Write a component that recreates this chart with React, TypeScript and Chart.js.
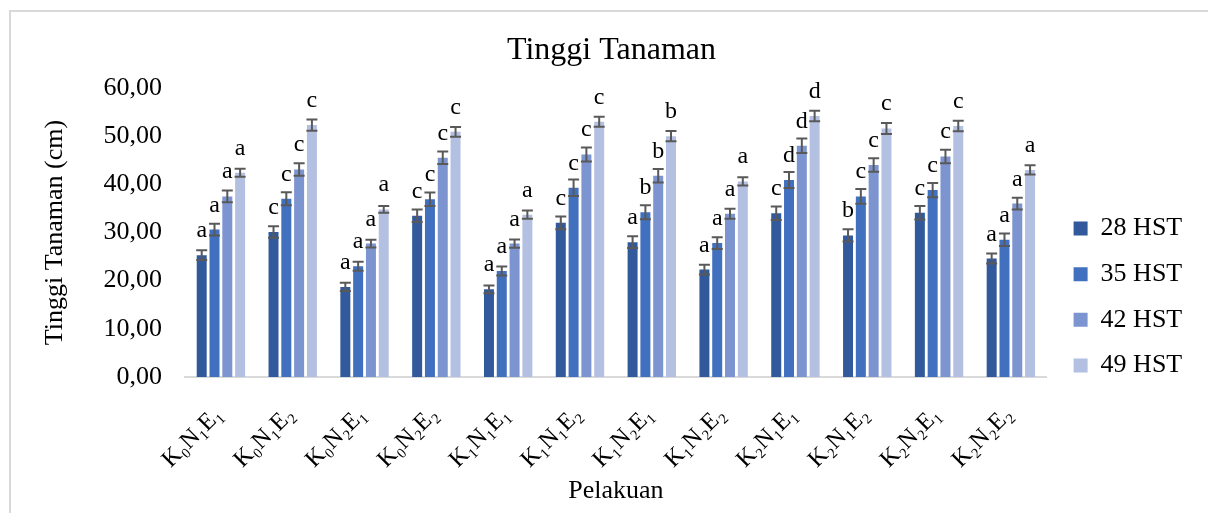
import React, { useEffect, useRef } from 'react';
import { Chart, registerables } from 'chart.js';

Chart.register(...registerables);

// ---- data ----
const categories = [
  'K₀N₁E₁', 'K₀N₁E₂', 'K₀N₂E₁', 'K₀N₂E₂',
  'K₁N₁E₁', 'K₁N₁E₂', 'K₁N₂E₁', 'K₁N₂E₂',
  'K₂N₁E₁', 'K₂N₁E₂', 'K₂N₂E₁', 'K₂N₂E₂',
];
const seriesNames = ['28 HST', '35 HST', '42 HST', '49 HST'];

const hst28 = [25.3, 30.1, 18.7, 33.5, 18.2, 32.0, 28.0, 22.3, 34.0, 29.4, 34.1, 24.6];
const hst35 = [30.6, 37.0, 23.0, 36.9, 22.0, 39.3, 34.2, 27.8, 40.9, 37.5, 38.8, 28.5];
const hst42 = [37.5, 43.1, 27.7, 45.5, 27.7, 46.2, 41.8, 33.9, 48.0, 44.0, 45.8, 36.0];
const hst49 = [42.4, 52.3, 34.8, 50.9, 33.7, 53.0, 50.0, 40.6, 54.2, 51.6, 52.1, 43.0];

const err28 = [1.0, 1.2, 0.85, 1.3, 0.8, 1.3, 1.2, 1.0, 1.4, 1.25, 1.4, 1.05];
const err35 = [1.2, 1.35, 0.95, 1.4, 0.95, 1.7, 1.45, 1.2, 1.65, 1.55, 1.5, 1.3];
const err42 = [1.2, 1.3, 0.8, 1.3, 0.85, 1.45, 1.4, 1.05, 1.5, 1.4, 1.4, 1.2];
const err49 = [0.85, 1.15, 0.7, 1.0, 0.85, 1.05, 1.05, 0.85, 1.1, 1.15, 1.1, 0.95];

const notation28 = ['a', 'c', 'a', 'c', 'a', 'c', 'a', 'a', 'c', 'b', 'c', 'a'];
const notation35 = ['a', 'c', 'a', 'c', 'a', 'c', 'b', 'a', 'd', 'c', 'c', 'a'];
const notation42 = ['a', 'c', 'a', 'c', 'a', 'c', 'b', 'a', 'd', 'c', 'c', 'a'];
const notation49 = ['a', 'c', 'a', 'c', 'a', 'c', 'b', 'a', 'd', 'c', 'c', 'a'];

const yTickLabels = ['0,00', '10,00', '20,00', '30,00', '40,00', '50,00', '60,00'];

const colors = ['#31599B', '#4170BF', '#7C94D0', '#B4C0E2'];
const FONT = "'Liberation Serif', 'Times New Roman', 'DejaVu Serif', serif";

const values = [hst28, hst35, hst42, hst49];
const errors = [err28, err35, err42, err49];
const notations = [notation28, notation35, notation42, notation49];

const errorBarPlugin = {
  id: 'errorBars',
  afterDatasetsDraw(chart: any) {
    const { ctx } = chart;
    const yScale = chart.scales.y;
    ctx.save();
    ctx.strokeStyle = '#595959';
    ctx.lineWidth = 2;
    chart.data.datasets.forEach((ds: any, i: number) => {
      const meta = chart.getDatasetMeta(i);
      meta.data.forEach((el: any, j: number) => {
        const v = ds.data[j];
        const e = ds.errors[j];
        const yTop = yScale.getPixelForValue(v + e);
        const yBot = yScale.getPixelForValue(v - e);
        const x = el.x;
        const hw = 5.5;
        ctx.beginPath();
        ctx.moveTo(x, yTop);
        ctx.lineTo(x, yBot);
        ctx.moveTo(x - hw, yTop);
        ctx.lineTo(x + hw, yTop);
        ctx.moveTo(x - hw, yBot);
        ctx.lineTo(x + hw, yBot);
        ctx.stroke();
      });
    });
    ctx.fillStyle = '#000';
    ctx.font = `24px ${FONT}`;
    ctx.textAlign = 'center';
    ctx.textBaseline = 'alphabetic';
    chart.data.datasets.forEach((ds: any, i: number) => {
      const meta = chart.getDatasetMeta(i);
      meta.data.forEach((el: any, j: number) => {
        const y = yScale.getPixelForValue(ds.data[j]);
        ctx.fillText(ds.notation[j], el.x, y - 18);
      });
    });
    ctx.restore();
  },
};

const legendPlacePlugin = {
  id: 'legendPlace',
  afterLayout(chart: any) {
    const lg = chart.legend;
    if (!lg) return;
    const w = lg.width;
    const h = 300;
    lg.left = 1054;
    lg.right = 1054 + w;
    lg.top = 196;
    lg.bottom = 196 + h;
  },
};

export default function App() {
  const ref = useRef<HTMLCanvasElement | null>(null);

  useEffect(() => {
    if (!ref.current) return;
    const chart = new Chart(ref.current, {
      type: 'bar',
      data: {
        labels: categories,
        datasets: seriesNames.map((name, i) => ({
          label: name,
          data: values[i],
          errors: errors[i],
          notation: notations[i],
          backgroundColor: colors[i],
          borderWidth: 0,
          categoryPercentage: 0.713,
          barPercentage: 0.78,
        })) as any,
      },
      options: {
        responsive: false,
        animation: false,
        events: [],
        layout: { padding: { left: 38, top: 0, right: 23, bottom: 0 } },
        plugins: {
          title: {
            display: true,
            text: 'Tinggi Tanaman',
            color: '#000',
            font: { family: FONT, size: 32, weight: 'normal' },
            padding: { top: 31, bottom: 18.6 },
          },
          legend: {
            display: true,
            position: 'right',
            align: 'start',
            labels: {
              color: '#000',
              font: { family: FONT, size: 26 },
              boxWidth: 14,
              boxHeight: 14,
              padding: 19.6,
            },
          },
          tooltip: { enabled: false },
        },
        scales: {
          x: {
            grid: { display: false },
            border: { display: true, color: '#D9D9D9', width: 2 },
            ticks: {
              color: '#000',
              font: { family: FONT, size: 24 },
              minRotation: 45,
              maxRotation: 45,
              autoSkip: false,
              padding: 16,
              labelOffset: -2,
            },
            title: {
              display: true,
              text: 'Pelakuan',
              color: '#000',
              font: { family: FONT, size: 26 },
              padding: { top: 0, bottom: 6.4 },
            },
            afterFit(scale: any) {
              scale.height = 136;
            },
          },
          y: {
            min: 0,
            max: 60,
            grid: { display: false, drawTicks: false },
            border: { display: false },
            ticks: {
              stepSize: 10,
              color: '#000',
              font: { family: FONT, size: 26 },
              padding: 23,
              callback: (_v: any, idx: number) => yTickLabels[idx],
            },
            title: {
              display: true,
              text: 'Tinggi Tanaman (cm)',
              color: '#000',
              font: { family: FONT, size: 26 },
              padding: { top: 2, bottom: 0 },
            },
            afterFit(scale: any) {
              scale.width = 147;
            },
          },
        },
      } as any,
      plugins: [errorBarPlugin, legendPlacePlugin],
    });
    return () => chart.destroy();
  }, []);

  return (
    <div
      style={{
        position: 'fixed',
        left: 0,
        top: 0,
        width: 1208,
        height: 513,
        overflow: 'hidden',
        background: '#fff',
      }}
    >
      <div
        style={{
          position: 'absolute',
          left: 9,
          top: 10,
          width: 1400,
          height: 700,
          border: '2px solid #D9D9D9',
          boxSizing: 'border-box',
        }}
      />
      <canvas
        ref={ref}
        width={1208}
        height={513}
        style={{ position: 'absolute', left: 0, top: 0, width: 1208, height: 513 }}
      />
    </div>
  );
}
